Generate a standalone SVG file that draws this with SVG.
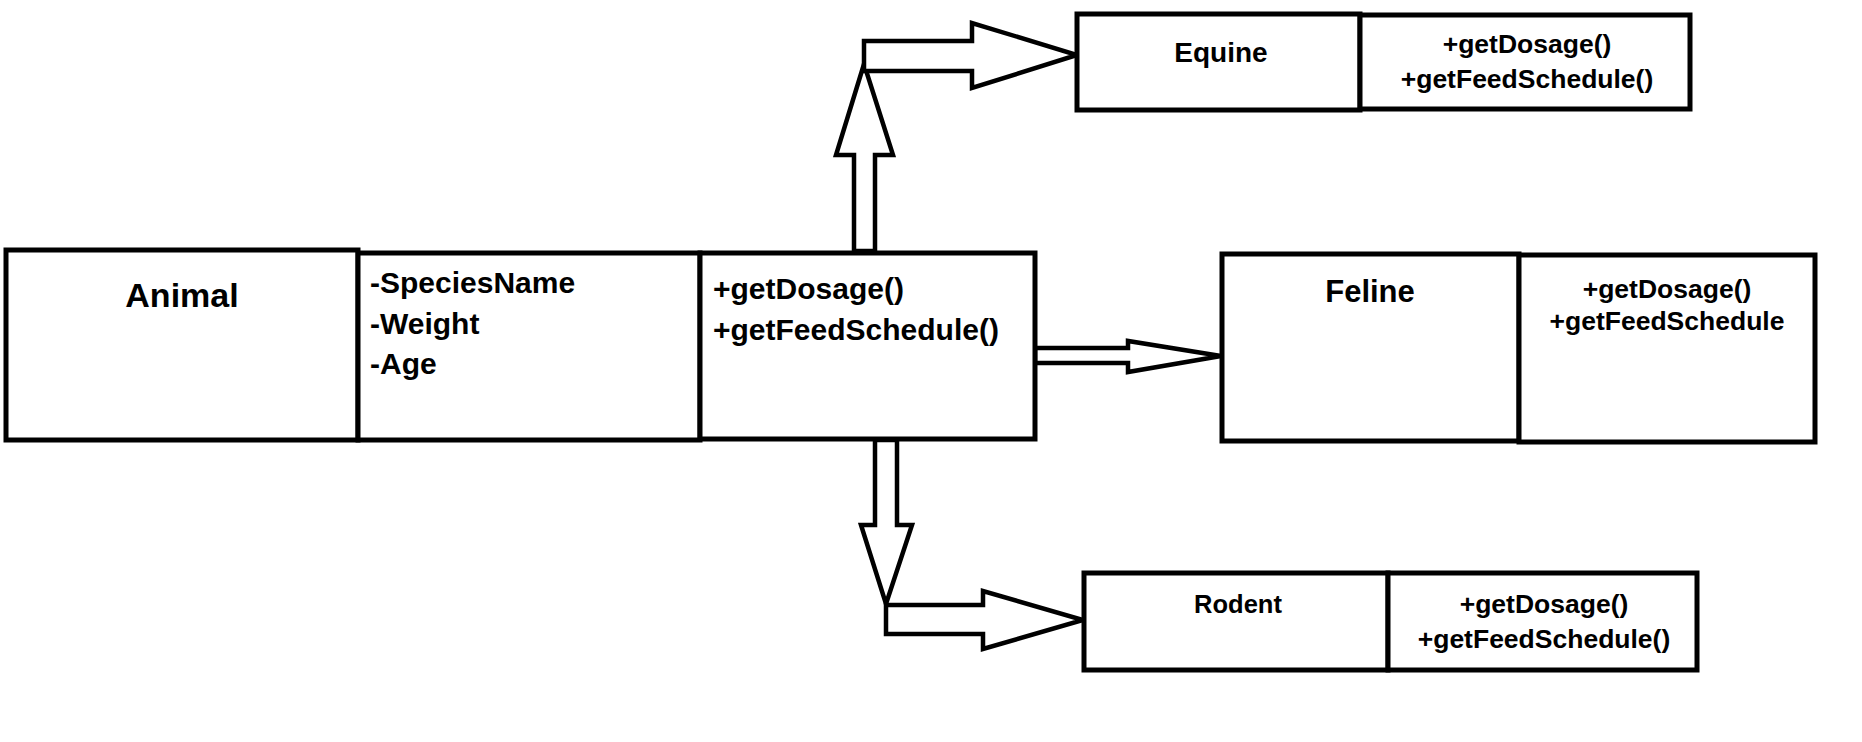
<svg xmlns="http://www.w3.org/2000/svg" width="1862" height="742" viewBox="0 0 1862 742">
<style>
.box{fill:#fff;stroke:#000;stroke-width:5}
.arr{fill:#fff;stroke:#000;stroke-width:4.5;stroke-linejoin:miter}
text{font-family:"Liberation Sans",Arial,sans-serif;font-weight:bold;fill:#000}
.c{text-anchor:middle}
</style>
<rect width="1862" height="742" fill="#fff"/>
<g id="connectors">
<polygon class="arr" points="854,251 854,155 836,155 864,64 893,155 875,155 875,251"/>
<polygon class="arr" points="864,41 972,41 972,23 1077,55 972,88 972,71 864,71"/>
<polygon class="arr" points="1035,348 1128,348 1128,341 1221,356 1128,372 1128,363 1035,363"/>
<polygon class="arr" points="875,440 875,525 861,525 886,604 912,525 897,525 897,440"/>
<polygon class="arr" points="886,605 983,605 983,591 1083,620 983,649 983,634 886,634"/>
</g>
<g id="animal">
<rect class="box" x="6" y="250" width="352" height="190"/>
<text class="c" x="182" y="307" font-size="34">Animal</text>
</g>
<g id="animal-attributes">
<rect class="box" x="358" y="253" width="342" height="187"/>
<text x="370" y="293" font-size="30">-SpeciesName</text>
<text x="370" y="334" font-size="30">-Weight</text>
<text x="370" y="374" font-size="30">-Age</text>
</g>
<g id="animal-methods">
<rect class="box" x="700" y="253" width="335" height="186"/>
<text x="713" y="299" font-size="30">+getDosage()</text>
<text x="713" y="340" font-size="30">+getFeedSchedule()</text>
</g>
<g id="equine">
<rect class="box" x="1077" y="14" width="283" height="96"/>
<text class="c" x="1221" y="62" font-size="28">Equine</text>
</g>
<g id="equine-methods">
<rect class="box" x="1360" y="15" width="330" height="94"/>
<text class="c" x="1527" y="53" font-size="26.5">+getDosage()</text>
<text class="c" x="1527" y="88" font-size="26.5">+getFeedSchedule()</text>
</g>
<g id="feline">
<rect class="box" x="1222" y="254" width="297" height="187"/>
<text class="c" x="1370" y="302" font-size="31">Feline</text>
</g>
<g id="feline-methods">
<rect class="box" x="1519" y="255" width="296" height="187"/>
<text class="c" x="1667" y="298" font-size="26.5">+getDosage()</text>
<text class="c" x="1667" y="330" font-size="26.5">+getFeedSchedule</text>
</g>
<g id="rodent">
<rect class="box" x="1084" y="573" width="304" height="97"/>
<text class="c" x="1238" y="613" font-size="25.5">Rodent</text>
</g>
<g id="rodent-methods">
<rect class="box" x="1388" y="573" width="309" height="97"/>
<text class="c" x="1544" y="613" font-size="26.5">+getDosage()</text>
<text class="c" x="1544" y="648" font-size="26.5">+getFeedSchedule()</text>
</g>
</svg>
